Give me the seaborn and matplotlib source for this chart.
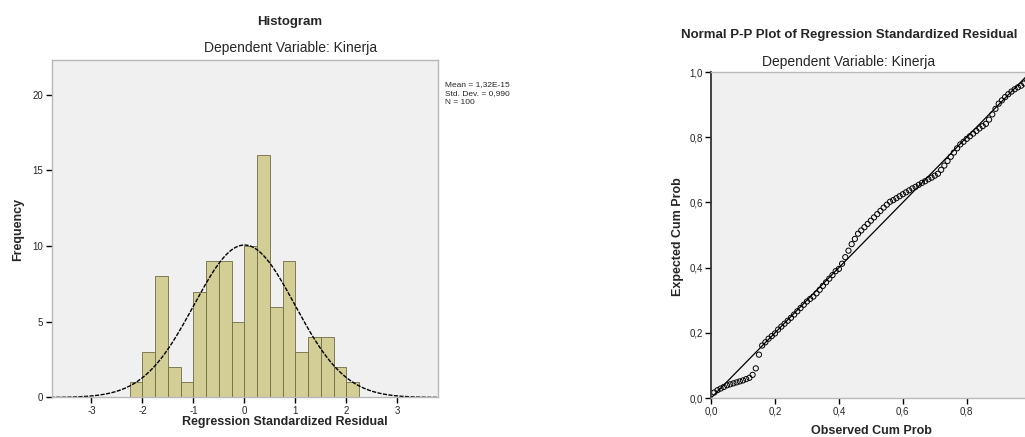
import numpy as np
import pandas as pd
import matplotlib
matplotlib.use("Agg")
import matplotlib.pyplot as plt
import seaborn as sns

# ---------------- data ----------------
bin_edges = [-2.25, -2.0, -1.75, -1.5, -1.25, -1.0, -0.75, -0.5, -0.25, 0.0,
             0.25, 0.5, 0.75, 1.0, 1.25, 1.5, 1.75, 2.0, 2.25]
bin_counts = [1, 3, 8, 2, 1, 7, 9, 9, 5, 10, 16, 6, 9, 3, 4, 4, 2, 1]
resid_mean = 0.0
resid_sd = 0.990
n_obs = 100
hist_xticks = [-3, -2, -1, 0, 1, 2, 3]
hist_yticks = [0, 5, 10, 15, 20]
legend_lines = ["Mean = 1,32E-15", "Std. Dev. = 0,990", "N = 100"]

pp_observed = [0.01, 0.02, 0.03, 0.04, 0.05, 0.06, 0.07, 0.08, 0.09, 0.10,
               0.11, 0.12, 0.13, 0.14, 0.15, 0.16, 0.17, 0.18, 0.19, 0.20,
               0.21, 0.22, 0.23, 0.24, 0.25, 0.26, 0.27, 0.28, 0.29, 0.30,
               0.31, 0.32, 0.33, 0.34, 0.35, 0.36, 0.37, 0.38, 0.39, 0.40,
               0.41, 0.42, 0.43, 0.44, 0.45, 0.46, 0.47, 0.48, 0.49, 0.50,
               0.51, 0.52, 0.53, 0.54, 0.55, 0.56, 0.57, 0.58, 0.59, 0.60,
               0.61, 0.62, 0.63, 0.64, 0.65, 0.66, 0.67, 0.68, 0.69, 0.70,
               0.71, 0.72, 0.73, 0.74, 0.75, 0.76, 0.77, 0.78, 0.79, 0.80,
               0.81, 0.82, 0.83, 0.84, 0.85, 0.86, 0.87, 0.88, 0.89, 0.90,
               0.91, 0.92, 0.93, 0.94, 0.95, 0.96, 0.97, 0.98, 0.99, 1.00]
pp_expected = [0.017, 0.024, 0.029, 0.034, 0.039, 0.042, 0.045, 0.048, 0.051, 0.054,
               0.058, 0.062, 0.071, 0.091, 0.133, 0.161, 0.171, 0.182, 0.190, 0.198,
               0.210, 0.219, 0.228, 0.237, 0.246, 0.256, 0.266, 0.276, 0.286, 0.296,
               0.304, 0.311, 0.321, 0.332, 0.344, 0.355, 0.366, 0.377, 0.389, 0.396,
               0.412, 0.432, 0.452, 0.472, 0.488, 0.504, 0.514, 0.524, 0.534, 0.544,
               0.554, 0.564, 0.574, 0.584, 0.593, 0.602, 0.607, 0.613, 0.619, 0.625,
               0.631, 0.637, 0.643, 0.648, 0.654, 0.660, 0.665, 0.671, 0.676, 0.682,
               0.688, 0.700, 0.713, 0.727, 0.740, 0.753, 0.766, 0.778, 0.786, 0.795,
               0.803, 0.811, 0.819, 0.827, 0.834, 0.841, 0.854, 0.870, 0.887, 0.903,
               0.913, 0.923, 0.932, 0.940, 0.947, 0.953, 0.958, 0.965, 0.974, 0.983]
ref_line = [0.0, 1.0]
pp_ticks = [0.0, 0.2, 0.4, 0.6, 0.8, 1.0]
pp_ticklabels = ["0,0", "0,2", "0,4", "0,6", "0,8", "1,0"]

# ---------------- style ----------------
sns.set_theme(style="white")
plt.rcParams["font.family"] = ["Liberation Sans", "DejaVu Sans"]

BG = "#f0f0f0"
BAR = "#d3ce96"
FRAME = "#b8b8b8"

fig = plt.figure(figsize=(10.25, 4.37), dpi=100)
fig.patch.set_facecolor("white")

# ---------------- histogram ----------------
ax1 = fig.add_axes([0.0504, 0.0904, 0.3772, 0.7723])
ax1.set_facecolor(BG)
centers = [(bin_edges[i] + bin_edges[i + 1]) / 2 for i in range(len(bin_counts))]
hdf = pd.DataFrame({"resid": centers, "count": bin_counts})
sns.histplot(data=hdf, x="resid", weights="count", bins=bin_edges, ax=ax1,
             color=BAR, alpha=1.0, edgecolor="#6f6b45", linewidth=0.6)

width = bin_edges[1] - bin_edges[0]
xs = np.linspace(-3.8, 3.8, 400)
ys = n_obs * width * np.exp(-0.5 * ((xs - resid_mean) / resid_sd) ** 2) / (resid_sd * np.sqrt(2 * np.pi))
sns.lineplot(x=xs, y=ys, ax=ax1, color="black", linewidth=1.0, linestyle=(0, (3, 1)))

ax1.set_xlim(-3.78, 3.8)
ax1.set_ylim(0, 22.3)
ax1.set_xticks(hist_xticks)
ax1.set_yticks(hist_yticks)
ax1.set_xticklabels([str(t) for t in hist_xticks], fontsize=7)
ax1.set_yticklabels([str(t) for t in hist_yticks], fontsize=7)
ax1.tick_params(axis="both", which="major", direction="out", length=4, width=1,
                color="black", pad=2, bottom=True, left=True)
ax1.set_xlabel("")
ax1.set_ylabel("")
for s in ax1.spines.values():
    s.set_color(FRAME)
    s.set_linewidth(1)

fig.text(290 / 1025, 1 - 22 / 437, "Histogram", ha="center", va="center",
         fontsize=9.5, fontweight="bold")
fig.text(291 / 1025, 1 - 48 / 437, "Dependent Variable: Kinerja", ha="center", va="center",
         fontsize=10)
fig.text(285 / 1025, 1 - 422 / 437, "Regression Standardized Residual", ha="center", va="center",
         fontsize=9, fontweight="bold")
fig.text(18 / 1025, 1 - 229 / 437, "Frequency", ha="center", va="center",
         fontsize=9, fontweight="bold", rotation=90)
for i, line in enumerate(legend_lines):
    fig.text(445 / 1025, 1 - (85 + 8.5 * i) / 437, line, ha="left", va="center", fontsize=6)

# ---------------- P-P plot ----------------
ax2 = fig.add_axes([0.6937, 0.0892, 0.3118, 0.7460])
ax2.set_facecolor(BG)
sns.lineplot(x=ref_line, y=ref_line, ax=ax2, color="black", linewidth=0.9)
pdf = pd.DataFrame({"obs": pp_observed, "exp": pp_expected})
sns.scatterplot(data=pdf, x="obs", y="exp", ax=ax2, marker="o", s=14,
                facecolors="none", edgecolor="black", linewidth=0.7)
ax2.set_xlim(0, 1)
ax2.set_ylim(0, 1)
ax2.set_xticks(pp_ticks)
ax2.set_yticks(pp_ticks)
ax2.set_xticklabels(pp_ticklabels, fontsize=7)
ax2.set_yticklabels(pp_ticklabels, fontsize=7)
ax2.tick_params(axis="both", which="major", direction="out", length=4, width=1,
                color="black", pad=2, bottom=True, left=True)
ax2.set_xlabel("")
ax2.set_ylabel("")
for name, s in ax2.spines.items():
    s.set_color(FRAME)
    s.set_linewidth(1)
ax2.spines["left"].set_color("#333333")
ax2.spines["left"].set_linewidth(1.3)

fig.text(849 / 1025, 1 - 35 / 437, "Normal P-P Plot of Regression Standardized Residual",
         ha="center", va="center", fontsize=9.5, fontweight="bold")
fig.text(849 / 1025, 1 - 62 / 437, "Dependent Variable: Kinerja", ha="center", va="center",
         fontsize=10)
fig.text(871 / 1025, 1 - 431 / 437, "Observed Cum Prob", ha="center", va="center",
         fontsize=9, fontweight="bold")
fig.text(678 / 1025, 1 - 237 / 437, "Expected Cum Prob", ha="center", va="center",
         fontsize=9, fontweight="bold", rotation=90)

fig.savefig("out.png", dpi=100, facecolor="white")
